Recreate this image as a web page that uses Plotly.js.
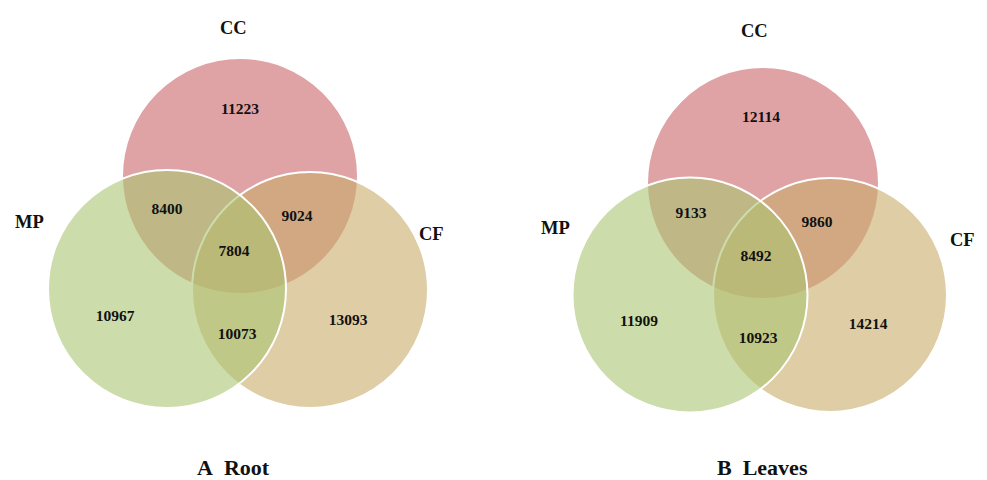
<!DOCTYPE html>
<html>
<head>
<meta charset="utf-8">
<script src="https://cdn.plot.ly/plotly-3.0.1.min.js"></script>
<style>html,body{margin:0;padding:0;background:#fff;}#chart{width:987px;height:480px;}</style>
</head>
<body>
<div id="chart"></div>
<script>
// ---- data ----
const setNames = ["CC", "MP", "CF"];
const regionNames = ["CC only", "CC∩MP", "CC∩CF", "CC∩MP∩CF", "MP only", "MP∩CF", "CF only"];
const rootCounts = [11223, 8400, 9024, 7804, 10967, 10073, 13093];
const leavesCounts = [12114, 9133, 9860, 8492, 11909, 10923, 14214];
const panelTitles = ["A  Root", "B  Leaves"];

// ---- geometry (pixel-like coordinates) ----
const panels = [
  {counts: rootCounts, title: panelTitles[0],
   circles: {CC: [240, 176, 118], MP: [167, 289, 119], CF: [310, 290, 118]},
   setLabels: {CC: [233, 28], MP: [29, 222], CF: [431, 234]},
   regionPos: [[240,110],[167,210],[297,217],[234,252],[115,317],[237,335],[348,321]],
   titlePos: [233, 467]},
  {counts: leavesCounts, title: panelTitles[1],
   circles: {CC: [763, 183, 116], MP: [690, 295, 117.5], CF: [830, 295, 117]},
   setLabels: {CC: [754, 31], MP: [555, 228], CF: [962, 240]},
   regionPos: [[761,118],[691,214],[817,223],[756,257],[639,322],[758,339],[868,325]],
   titlePos: [762, 467]}
];
const fillColors = {CC: "rgba(202,102,105,0.6)", CF: "rgba(200,172,105,0.6)", MP: "rgba(170,197,113,0.6)"};
const drawOrder = ["CC", "CF", "MP"];
const serif = "Liberation Serif, Times New Roman, serif";

const shapes = [];
const traces = [];
const annotations = [];
panels.forEach(p => {
  drawOrder.forEach(s => {
    const [cx, cy, r] = p.circles[s];
    shapes.push({type: "circle", xref: "x", yref: "y", x0: cx - r, x1: cx + r, y0: cy - r, y1: cy + r,
      fillcolor: fillColors[s], line: {color: "#ffffff", width: 2}, layer: "below"});
  });
  traces.push({
    type: "scatter", mode: "text",
    x: p.regionPos.map(q => q[0]), y: p.regionPos.map(q => q[1]),
    text: p.counts.map(v => "<b>" + v + "</b>"),
    customdata: regionNames,
    textfont: {family: serif, size: 15.5, color: "#111"},
    hoverinfo: "text", showlegend: false
  });
  setNames.forEach(s => {
    annotations.push({x: p.setLabels[s][0], y: p.setLabels[s][1], xref: "x", yref: "y",
      text: "<b>" + s + "</b>", showarrow: false,
      font: {family: serif, size: 18.5, color: "#111"}});
  });
  annotations.push({x: p.titlePos[0], y: p.titlePos[1], xref: "x", yref: "y",
    text: "<b>" + p.title.replace("  ", "&nbsp;&nbsp;") + "</b>", showarrow: false,
    font: {family: serif, size: 22, color: "#111"}});
});

const layout = {
  width: 987, height: 480,
  margin: {l: 0, r: 0, t: 0, b: 0},
  paper_bgcolor: "#ffffff", plot_bgcolor: "#ffffff",
  xaxis: {range: [0, 987], visible: false, fixedrange: true},
  yaxis: {range: [480, 0], visible: false, fixedrange: true},
  shapes: shapes, annotations: annotations, showlegend: false
};
Plotly.newPlot("chart", traces, layout, {displayModeBar: false, staticPlot: true});
</script>
</body>
</html>
